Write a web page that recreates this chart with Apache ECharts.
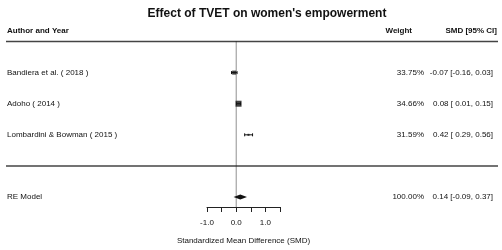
<!DOCTYPE html>
<html>
<head>
<meta charset="utf-8">
<script src="https://cdn.jsdelivr.net/npm/echarts@6/dist/echarts.min.js"></script>
<style>
  html, body { margin: 0; padding: 0; background: #fff; }
  #main { width: 502px; height: 250px; }
</style>
</head>
<body>
<div id="main"></div>
<script>
// study rows, top to bottom
var studies = ['Bandiera et al. ( 2018 )', 'Adoho ( 2014 )', 'Lombardini & Bowman ( 2015 )'];
var smd = [-0.07, 0.08, 0.42];
var ciLower = [-0.16, 0.01, 0.29];
var ciUpper = [0.03, 0.15, 0.56];
var weights = ['33.75%', '34.66%', '31.59%'];

// pooled random-effects estimate
var reLabel = 'RE Model';
var reEst = 0.14;
var reLower = -0.09;
var reUpper = 0.37;
var reWeight = '100.00%';

var xTicks = [-1, -0.5, 0, 0.5, 1, 1.5];
var xTickLabels = ['-1.0', '', '0.0', '', '1.0', ''];

var font = 'Liberation Sans, Arial, sans-serif';
var rows = studies.map(function (s, i) { return studies.length - i; });
var reRow = -1;

function ciText (e, l, u) {
  function f (v) { return (v < 0 ? '' : ' ') + v.toFixed(2); }
  return (e < 0 ? '' : ' ') + e.toFixed(2) + ' [' + f(l) + ', ' + u.toFixed(2) + ']';
}

var chartDom = document.getElementById('main');
var myChart = echarts.init(chartDom);
var option;

option = {
  animation: false,
  title: {
    text: "Effect of TVET on women's empowerment",
    left: 262,
    textAlign: 'center',
    top: 3,
    textStyle: { fontFamily: font, fontSize: 12, fontWeight: 'bold', color: '#111' }
  },
  grid: { left: 207, width: 73, top: 41.5, height: 166.2 },
  xAxis: {
    type: 'value',
    min: xTicks[0],
    max: xTicks[xTicks.length - 1],
    interval: 0.5,
    splitLine: { show: false },
    axisLine: { onZero: false, lineStyle: { color: '#222', width: 1 } },
    axisTick: { length: 5, lineStyle: { color: '#222' } },
    axisLabel: {
      margin: 12,
      fontFamily: font,
      fontSize: 8,
      color: '#111',
      formatter: function (v) {
        var i = xTicks.indexOf(Math.round(v * 10) / 10);
        return i >= 0 ? xTickLabels[i] : '';
      }
    },
    name: 'Standardized Mean Difference (SMD)',
    nameLocation: 'middle',
    nameGap: 30,
    nameTextStyle: { fontFamily: font, fontSize: 8, color: '#111' }
  },
  yAxis: { type: 'value', min: -1.32, max: 4, show: false },
  series: [
    {
      // dotted reference line at 0
      type: 'line',
      data: [[0, 4], [0, -1.32]],
      symbol: 'none',
      silent: true,
      lineStyle: { type: [1, 1], color: '#222', width: 1 }
    },
    {
      type: 'custom',
      data: rows.map(function (r, i) { return [ciLower[i], ciUpper[i], r]; }),
      encode: { x: [0, 1], y: 2 },
      renderItem: function (params, api) {
        var a = api.coord([api.value(0), api.value(2)]);
        var b = api.coord([api.value(1), api.value(2)]);
        var st = { stroke: '#111', lineWidth: 1 };
        return {
          type: 'group',
          children: [
            { type: 'line', shape: { x1: a[0], y1: a[1], x2: b[0], y2: b[1] }, style: st },
            { type: 'line', shape: { x1: a[0], y1: a[1] - 1.5, x2: a[0], y2: a[1] + 1.5 }, style: st },
            { type: 'line', shape: { x1: b[0], y1: b[1] - 1.5, x2: b[0], y2: b[1] + 1.5 }, style: st }
          ]
        };
      }
    },
    {
      type: 'scatter',
      symbol: 'rect',
      data: rows.map(function (r, i) { return [smd[i], r, ciUpper[i] - ciLower[i]]; }),
      symbolSize: function (d) { return d[2] > 0.25 ? 2 : Math.round(0.8 / d[2]); },
      itemStyle: { color: '#111' }
    },
    {
      type: 'custom',
      data: [[reLower, reEst, reUpper, reRow]],
      encode: { x: [0, 1, 2], y: 3 },
      renderItem: function (params, api) {
        var l = api.coord([api.value(0), api.value(3)]);
        var m = api.coord([api.value(1), api.value(3)]);
        var u = api.coord([api.value(2), api.value(3)]);
        return {
          type: 'polygon',
          shape: { points: [[l[0], l[1]], [m[0], m[1] - 2.5], [u[0], u[1]], [m[0], m[1] + 2.5]] },
          style: { fill: '#111' }
        };
      }
    }
  ]
};

option && myChart.setOption(option);

// text columns and rules, placed on the chart's own row scale
function yOf (r) { return myChart.convertToPixel({ yAxisIndex: 0 }, r); }
var textStyle = function (t, x, y, align, bold) {
  return {
    type: 'text', x: x, y: y,
    style: { text: t, fontFamily: font, fontSize: 8, fontWeight: bold ? 'bold' : 'normal', fill: '#111', align: align, verticalAlign: 'middle' }
  };
};
var g = [];
var headY = yOf(4.35);
g.push(textStyle('Author and Year', 7, headY, 'left', true));
g.push(textStyle('Weight', 412, headY, 'right', true));
g.push(textStyle('SMD [95% CI]', 497, headY, 'right', true));
[4, 0].forEach(function (r) {
  var y = yOf(r);
  g.push({ type: 'line', shape: { x1: 6, y1: y, x2: 498, y2: y }, style: { stroke: '#444', lineWidth: 1.5 } });
});
rows.forEach(function (r, i) {
  var y = yOf(r);
  g.push(textStyle(studies[i], 7, y, 'left', false));
  g.push(textStyle(weights[i], 424, y, 'right', false));
  g.push(textStyle(ciText(smd[i], ciLower[i], ciUpper[i]), 493, y, 'right', false));
});
var yRe = yOf(reRow);
g.push(textStyle(reLabel, 7, yRe, 'left', false));
g.push(textStyle(reWeight, 424, yRe, 'right', false));
g.push(textStyle(ciText(reEst, reLower, reUpper), 493, yRe, 'right', false));

myChart.setOption({ graphic: g });
</script>
</body>
</html>
